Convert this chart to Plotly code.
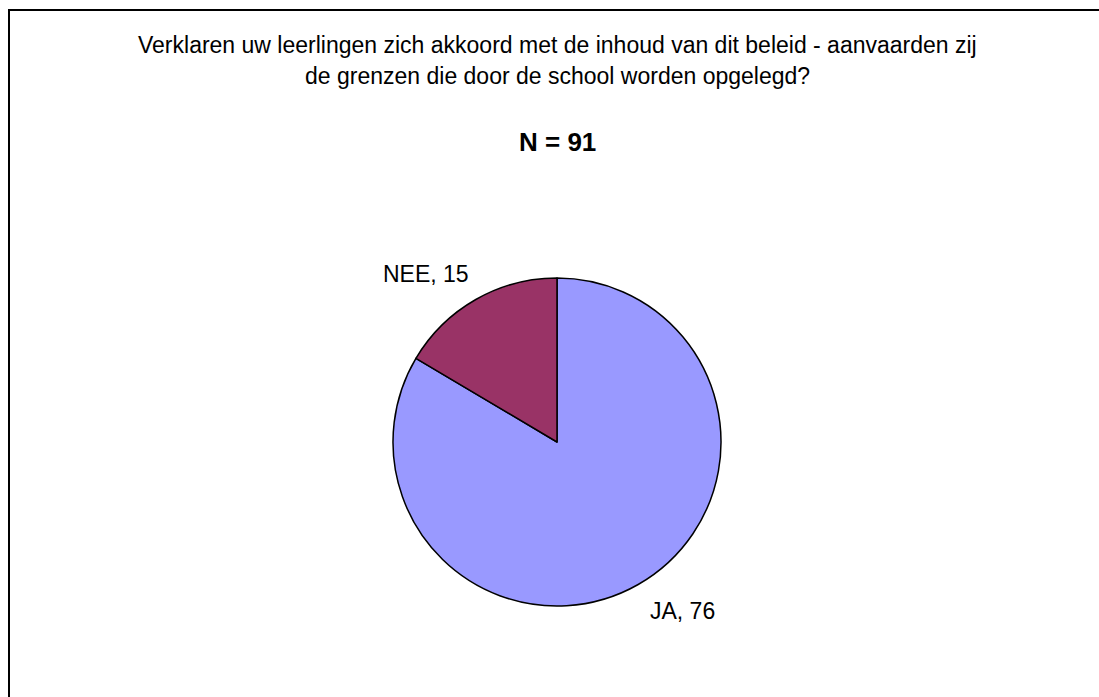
import plotly.graph_objects as go

# Data
categories = ["JA", "NEE"]
values = [76, 15]
colors = ["#9999FF", "#993366"]
title_lines = [
    "Verklaren uw leerlingen zich akkoord met de inhoud van dit beleid - aanvaarden zij",
    "de grenzen die door de school worden opgelegd?",
]

W, H = 1099, 697
FONT = "Liberation Sans, Arial, sans-serif"

def px(x):  # screen x -> paper x
    return x / W

def py(y):  # screen y -> paper y
    return 1 - y / H

cx, cy, r = 557, 442, 164

fig = go.Figure(
    go.Pie(
        labels=categories,
        values=values,
        sort=False,
        direction="clockwise",
        rotation=0,
        marker=dict(colors=colors, line=dict(color="black", width=1.5)),
        textinfo="none",
        hoverinfo="label+value",
        showlegend=False,
        domain=dict(x=[px(cx - r), px(cx + r)], y=[py(cy + r), py(cy - r)]),
    )
)

annotations = [
    dict(x=px(557), y=py(45), text=title_lines[0], font=dict(size=23)),
    dict(x=px(557), y=py(76), text=title_lines[1], font=dict(size=23)),
    dict(x=px(557), y=py(142), text=f"<b>N = {sum(values)}</b>", font=dict(size=26)),
    dict(x=px(682), y=py(611), text=f"{categories[0]}, {values[0]}", font=dict(size=23)),
    dict(x=px(425.5), y=py(274), text=f"{categories[1]}, {values[1]}", font=dict(size=23)),
]
for a in annotations:
    a.update(xref="paper", yref="paper", showarrow=False,
             xanchor="center", yanchor="middle")
    a["font"].update(family=FONT, color="black")

fig.update_layout(
    width=W,
    height=H,
    margin=dict(l=0, r=0, t=0, b=0),
    paper_bgcolor="white",
    plot_bgcolor="white",
    font=dict(family=FONT, color="black"),
    annotations=annotations,
    shapes=[
        dict(type="rect", xref="paper", yref="paper",
             x0=px(9), x1=1.1, y0=-0.1, y1=py(10),
             line=dict(color="black", width=2), fillcolor="rgba(0,0,0,0)"),
    ],
)

fig.write_html(
    "out.html",
    config={"displayModeBar": False},
    post_script="document.body.style.margin='0';document.body.style.overflow='hidden';",
)
